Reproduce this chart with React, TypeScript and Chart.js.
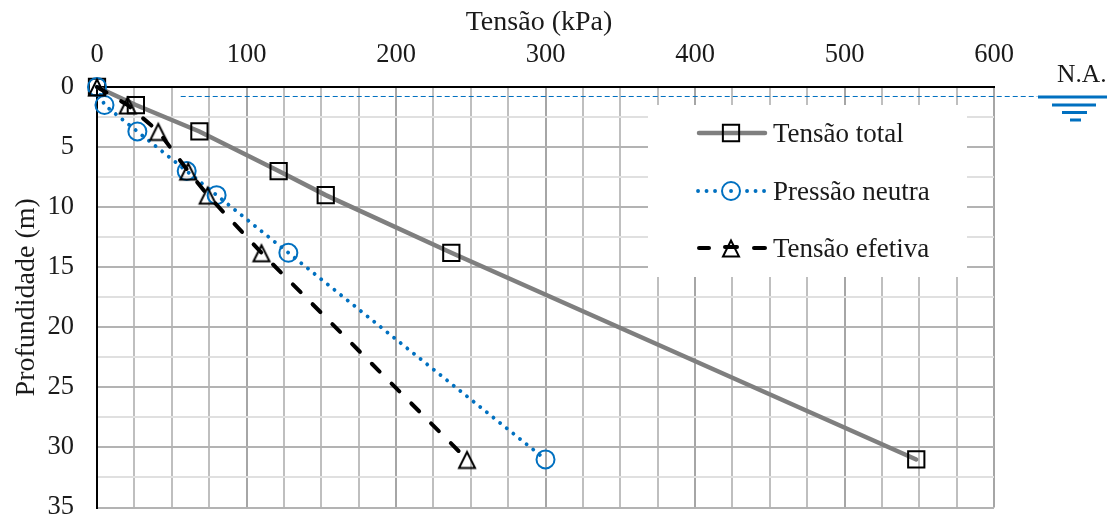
import React, { useEffect, useRef } from "react";
import { Chart, registerables } from "chart.js";
import { drawPoint } from "chart.js/helpers";

Chart.register(...registerables);

const depth = [0, 1.5, 3.7, 7, 9, 13.8, 31];
const tensaoTotal = [0, 26, 68.5, 121.5, 153, 237, 548];
const pressaoNeutra = [0, 5, 27, 60, 80, 128, 300];
const tensaoEfetiva = [0, 20.5, 41, 61, 74, 110, 247.5];
const naDepth = [0.79, 0.79];
const naStress = [56, 629];
const seriesNames = ["Tensão total", "Pressão neutra", "Tensão efetiva"];
const xAxisTitle = "Tensão (kPa)";
const yAxisTitle = "Profundidade (m)";
const waterLabel = "N.A.";

const FONT = '"Liberation Serif"';
const BLUE = "#0070C0";
const TEXT = "#1a1a1a";

const toPoints = (xs: number[], ys: number[]) => xs.map((x, i) => ({ x, y: ys[i] }));

function triangleMarker() {
  const c = document.createElement("canvas");
  c.width = 22;
  c.height = 22;
  const g = c.getContext("2d")!;
  g.strokeStyle = "#000";
  g.lineWidth = 2;
  g.lineJoin = "miter";
  g.beginPath();
  g.moveTo(11, 3.5);
  g.lineTo(3, 19.5);
  g.lineTo(19, 19.5);
  g.closePath();
  g.stroke();
  return c;
}

const overlay = {
  id: "overlay",
  beforeDatasetsDraw(chart: any) {
    const ctx = chart.ctx;
    ctx.save();
    ctx.fillStyle = "#fff";
    ctx.fillRect(648, 105, 319, 172);
    ctx.restore();
  },
  afterDraw(chart: any) {
    const ctx = chart.ctx;
    ctx.save();
    const rows = [133, 191, 248];
    chart.data.datasets.slice(0, 3).forEach((ds: any, i: number) => {
      const y = rows[i];
      ctx.save();
      ctx.strokeStyle = ds.borderColor;
      ctx.lineWidth = ds.borderWidth;
      ctx.lineCap = ds.borderCapStyle || "butt";
      ctx.setLineDash([]);
      ctx.beginPath();
      if (i === 0) {
        ctx.moveTo(699, y);
        ctx.lineTo(765, y);
      } else if (i === 1) {
        [698, 706.5, 715, 731, 747, 755.5, 764].forEach((dx) => {
          ctx.moveTo(dx, y);
          ctx.lineTo(dx + 0.1, y);
        });
      } else {
        ctx.moveTo(699, y);
        ctx.lineTo(709, y);
        ctx.moveTo(725, y - 1);
        ctx.lineTo(737, y - 1);
        ctx.moveTo(754, y);
        ctx.lineTo(765, y);
      }
      ctx.stroke();
      ctx.strokeStyle = ds.pointBorderColor;
      ctx.fillStyle = "rgba(0,0,0,0)";
      ctx.lineWidth = ds.pointBorderWidth;
      drawPoint(ctx, { pointStyle: ds.pointStyle, rotation: 0, radius: ds.pointRadius, borderWidth: ds.pointBorderWidth }, 731, y);
      ctx.restore();
      ctx.fillStyle = TEXT;
      ctx.font = `27px ${FONT}`;
      ctx.textAlign = "left";
      ctx.textBaseline = "middle";
      ctx.fillText(ds.label, 773, y + 2);
    });
    ctx.fillStyle = BLUE;
    ctx.fillRect(1038, 95.5, 69, 3);
    ctx.fillRect(1052, 103.5, 44, 3);
    ctx.fillRect(1062, 111, 25, 3);
    ctx.fillRect(1070, 118.5, 11, 3);
    ctx.fillStyle = TEXT;
    ctx.font = `25.5px ${FONT}`;
    ctx.textAlign = "left";
    ctx.textBaseline = "middle";
    ctx.fillText(waterLabel, 1057, 75);
    ctx.font = `28px ${FONT}`;
    ctx.textAlign = "center";
    ctx.fillText(xAxisTitle, 539, 23);
    ctx.restore();
  },
};

export default function App() {
  const ref = useRef<HTMLCanvasElement>(null);
  useEffect(() => {
    document.body.style.margin = "0";
    const chart = new Chart(ref.current!, {
      type: "scatter",
      data: {
        datasets: [
          {
            label: seriesNames[0],
            data: toPoints(tensaoTotal, depth),
            showLine: true,
            order: 3,
            clip: false,
            borderColor: "#7F7F7F",
            borderWidth: 4.5,
            borderCapStyle: "round",
            pointStyle: "rect",
            pointRadius: 11.5,
            pointBorderColor: "#000",
            pointBorderWidth: 2,
            pointBackgroundColor: "rgba(0,0,0,0)",
          },
          {
            label: seriesNames[1],
            data: toPoints(pressaoNeutra, depth),
            showLine: true,
            order: 2,
            clip: false,
            borderColor: BLUE,
            borderWidth: 3.8,
            borderDash: [0.1, 8.4],
            borderCapStyle: "round",
            pointStyle: "circle",
            pointRadius: 9,
            pointBorderColor: BLUE,
            pointBorderWidth: 2,
            pointBackgroundColor: "rgba(0,0,0,0)",
          },
          {
            label: seriesNames[2],
            data: toPoints(tensaoEfetiva, depth),
            showLine: true,
            order: 1,
            clip: false,
            borderColor: "#000",
            borderWidth: 4,
            borderDash: [11, 17],
            borderCapStyle: "round",
            pointStyle: triangleMarker(),
            pointRadius: 11,
            pointBorderColor: "#000",
            pointBorderWidth: 2,
            pointBackgroundColor: "rgba(0,0,0,0)",
          },
          {
            label: waterLabel,
            data: toPoints(naStress, naDepth),
            showLine: true,
            order: 0,
            clip: false,
            borderColor: BLUE,
            borderWidth: 1,
            borderDash: [5, 3],
            pointRadius: 0,
          },
        ] as any,
      },
      options: {
        responsive: false,
        animation: false,
        layout: { padding: { left: 0, right: 113, top: 0, bottom: 9 } },
        plugins: { legend: { display: false }, tooltip: { enabled: false } },
        scales: {
          x: {
            type: "linear",
            position: "top",
            min: 0,
            max: 600,
            afterFit: (s: any) => {
              s.height = 87;
              s.getPadding = () => ({ left: 0, right: 0, top: 0, bottom: 0 });
            },
            title: { display: false },
            ticks: {
              stepSize: 25,
              autoSkip: false,
              maxRotation: 0,
              color: TEXT,
              font: { family: FONT, size: 26.5 },
              padding: 16,
              callback: (v: any) => (Number(v) % 100 === 0 ? String(v) : ""),
            },
            border: { color: "#000", width: 2 },
            grid: {
              drawTicks: false,
              lineWidth: 2,
              color: (c: any) => (c.tick.value % 100 === 0 ? "#A6A6A6" : "#BFBFBF"),
            },
          },
          y: {
            type: "linear",
            reverse: true,
            min: 0,
            max: 35,
            afterFit: (s: any) => {
              s.width = 97;
              s.getPadding = () => ({ left: 0, right: 0, top: 0, bottom: 0 });
            },
            title: {
              display: true,
              text: yAxisTitle,
              color: TEXT,
              font: { family: FONT, size: 28 },
              padding: { top: 10, bottom: 0 },
            },
            ticks: {
              stepSize: 2.5,
              autoSkip: false,
              color: TEXT,
              font: { family: FONT, size: 26.5 },
              padding: 23,
              callback: (v: any) => (Number(v) % 5 === 0 ? String(v) : ""),
            },
            border: { color: "#000", width: 2 },
            grid: {
              drawTicks: false,
              lineWidth: 2,
              color: (c: any) => (c.tick.value % 5 === 0 ? "#B3B3B3" : "#E0E0E0"),
            },
          },
        },
      } as any,
      plugins: [overlay],
    });
    return () => chart.destroy();
  }, []);
  return (
    <div style={{ width: 1107, height: 519, background: "#fff", overflow: "hidden" }}>
      <canvas ref={ref} width={1107} height={521} style={{ display: "block" }} />
    </div>
  );
}
